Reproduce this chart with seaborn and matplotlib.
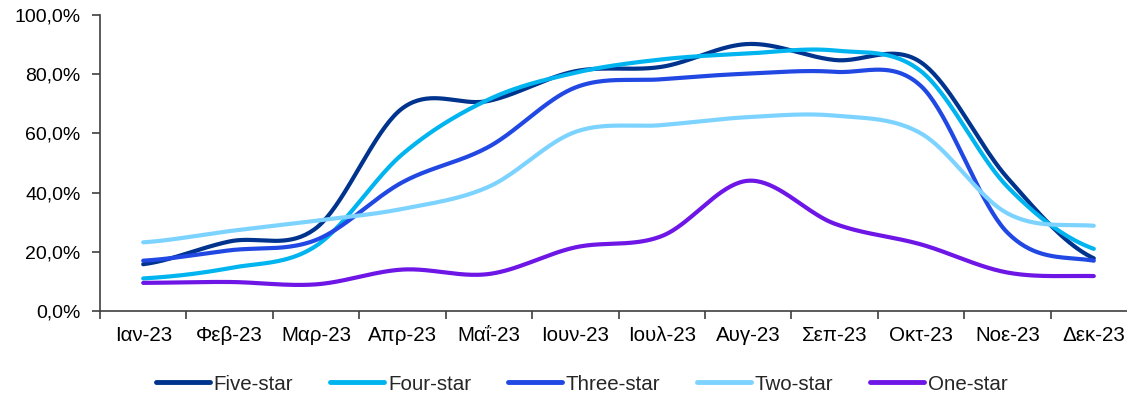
import numpy as np
import pandas as pd
import matplotlib
matplotlib.use("Agg")
import matplotlib.pyplot as plt
from matplotlib.lines import Line2D
from matplotlib.ticker import FuncFormatter, FixedLocator
import seaborn as sns

# Monthly occupancy by hotel category, 2023
months = ["Ιαν-23", "Φεβ-23", "Μαρ-23", "Απρ-23", "Μαΐ-23", "Ιουν-23",
          "Ιουλ-23", "Αυγ-23", "Σεπ-23", "Οκτ-23", "Νοε-23", "Δεκ-23"]
series_names = ["Five-star", "Four-star", "Three-star", "Two-star", "One-star"]

five_star = [15.8, 23.5, 28.0, 68.5, 71.0, 81.0, 82.5, 90.2, 84.8, 84.0, 45.0, 17.8]
four_star = [11.0, 14.5, 22.0, 53.0, 71.5, 80.5, 85.0, 87.0, 88.0, 81.0, 42.0, 21.0]
three_star = [17.0, 20.5, 24.0, 43.5, 55.5, 75.5, 78.3, 80.2, 80.8, 76.0, 26.5, 17.0]
two_star = [23.2, 27.0, 30.5, 34.5, 42.0, 60.5, 62.8, 65.5, 66.0, 60.0, 33.0, 28.8]
one_star = [9.5, 9.8, 9.0, 14.0, 12.5, 21.5, 25.3, 44.0, 29.5, 22.5, 13.0, 11.8]

colors = ["#00338D", "#00B4F0", "#2148E3", "#7DD3FF", "#6E16E6"]
values = [five_star, four_star, three_star, two_star, one_star]


def smooth(y, steps=40):
    """Catmull-Rom spline through the monthly points (smoothed line)."""
    y = np.asarray(y, dtype=float)
    n = len(y)
    ext = np.concatenate([[y[0]], y, [y[-1]]])
    xs, ys = [], []
    for i in range(n - 1):
        p0, p1, p2, p3 = ext[i], ext[i + 1], ext[i + 2], ext[i + 3]
        m1 = (p2 - p0) / 2.0
        m2 = (p3 - p1) / 2.0
        t = np.linspace(0, 1, steps, endpoint=(i == n - 2))
        h00 = 2 * t**3 - 3 * t**2 + 1
        h10 = t**3 - 2 * t**2 + t
        h01 = -2 * t**3 + 3 * t**2
        h11 = t**3 - t**2
        xs.append(i + t)
        ys.append(h00 * p1 + h10 * m1 + h01 * p2 + h11 * m2)
    return np.concatenate(xs), np.concatenate(ys)


frames = []
for name, vals in zip(series_names, values):
    sx, sy = smooth(vals)
    frames.append(pd.DataFrame({"x": sx, "value": sy, "series": name}))
df = pd.concat(frames, ignore_index=True)

sns.set_theme(style="white")
plt.rcParams["font.family"] = ["Liberation Sans", "DejaVu Sans"]

fig = plt.figure(figsize=(11.27, 3.99), dpi=100)
ax = fig.add_axes([100 / 1127, 88 / 399, 1037 / 1127, 296 / 399])

sns.lineplot(data=df, x="x", y="value", hue="series", hue_order=series_names,
             palette=colors, estimator=None, sort=False, linewidth=3.0,
             legend=False, ax=ax, solid_capstyle="round")

ax.set_xlim(-0.5, 11.5)
ax.set_ylim(0, 100)
ax.set_xlabel("")
ax.set_ylabel("")

# category boundaries carry the tick marks, centres carry the labels
ax.xaxis.set_major_locator(FixedLocator(np.arange(-0.5, 12.0, 1.0)))
ax.xaxis.set_major_formatter(FuncFormatter(lambda v, p: ""))
ax.xaxis.set_minor_locator(FixedLocator(np.arange(12)))
ax.set_xticklabels(months, minor=True)
ax.tick_params(axis="x", which="major", length=6, width=1.2, color="#404040",
               direction="out", bottom=True)
ax.tick_params(axis="x", which="minor", length=0, pad=11, labelsize=14.8,
               labelcolor="#000000", bottom=True)

ax.set_yticks(np.arange(0, 101, 20))
ax.yaxis.set_major_formatter(FuncFormatter(lambda v, p: f"{v:.1f}%".replace(".", ",")))
ax.tick_params(axis="y", length=6, width=1.2, color="#404040", direction="out",
               left=True, pad=8, labelsize=14, labelcolor="#000000")

for side in ["top", "right"]:
    ax.spines[side].set_visible(False)
for side in ["left", "bottom"]:
    ax.spines[side].set_color("#404040")
    ax.spines[side].set_linewidth(1.2)
ax.grid(False)

handles = [Line2D([], [], color=c, linewidth=3.5, solid_capstyle="round") for c in colors]
fig.legend(handles, series_names, loc="center", bbox_to_anchor=(582 / 1127, 1 - 384 / 399),
           ncol=5, frameon=False, fontsize=14.8, handlelength=2.6, handletextpad=0.2,
           columnspacing=1.8)

fig.savefig("out.png", dpi=100)
